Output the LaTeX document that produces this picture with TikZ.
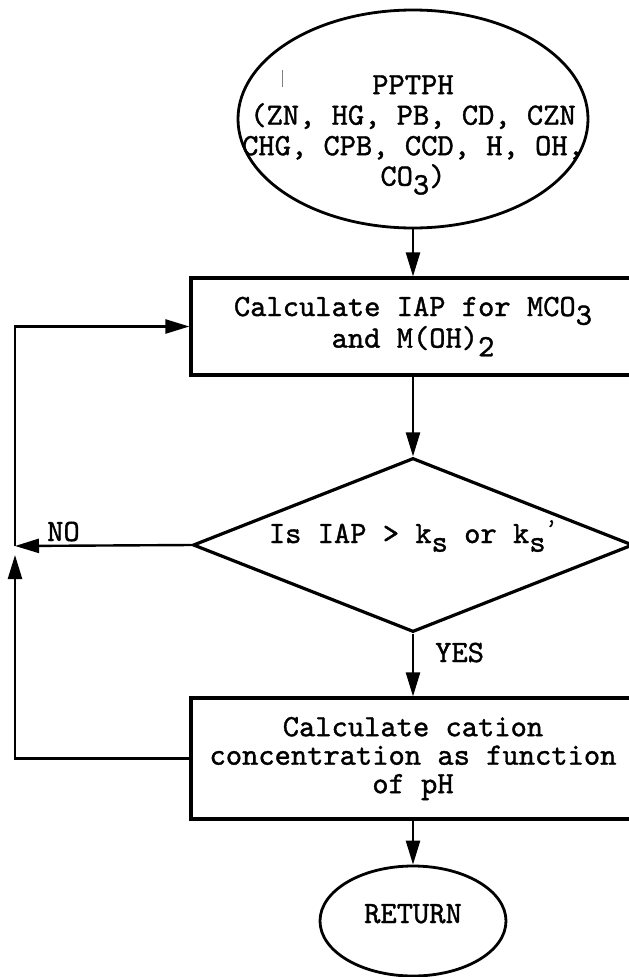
\documentclass[tikz,border=0pt]{standalone}
\usepackage{fontspec}
\usetikzlibrary{shapes.geometric,arrows.meta}
\newfontfamily\typew{lmmono10-regular.otf}[FakeBold=1.2]
% typed subscript: same face, dropped below the baseline
\newcommand\sub[1]{\raisebox{-0.28em}{#1}}
\begin{document}
\begin{tikzpicture}[x=1pt,y=-1pt,
  every node/.style={font=\typew\fontsize{31}{30.5}\selectfont, inner sep=0pt},
  outline/.style={draw, line width=3.2pt},
  procbox/.style={outline, rectangle, minimum width=444pt, align=center},
  flow/.style={line width=2.4pt, -{Triangle[length=24pt,width=14pt]}},
  lbl/.style={anchor=base west}]
\clip (0,0) rectangle (629,977);

% start terminal
\node[outline, line width=2.8pt, ellipse, minimum width=350pt, minimum height=218pt] (start) at (413,119) {};
\node[align=center] (starttext) at (413,135)
  {PPTPH\\(ZN, HG, PB, CD, CZN\\CHG, CPB, CCD, H, OH,\\CO\sub{3})};
\draw[gray, line width=0.6pt] (282,70) -- (282,87);

% process boxes and decision
\node[procbox, minimum height=97pt] (iap) at (413,326.5)
  {Calculate IAP for MCO\sub{3}\\and M(OH)\sub{2}};
\node[outline, diamond, minimum width=440pt, minimum height=174pt, aspect=2.53,
      text height=20pt, text depth=24pt] (test) at (413,545)
  {Is IAP > k\sub{s} or k\sub{s}\raisebox{0.3em}{\fontsize{22}{22}\selectfont’}};
\node[procbox, minimum height=121pt, font=\typew\fontsize{31}{28.5}\selectfont] (cation) at (413,758.5)
  {Calculate cation\\concentration as function\\of pH};
\node[outline, line width=2.8pt, ellipse, minimum width=186pt, minimum height=110pt,
      text height=19pt, text depth=15pt] (ret) at (413,921) {RETURN};

% branch labels
\node[lbl] (no) at (47,541) {NO};
\node[lbl] (yes) at (435,662) {YES};

% loop-back points on the left rail
\coordinate (junction) at (15,546);
\coordinate (uptip) at (15,555);

% main flow
\draw[flow] (start.south) -- (iap.north);
\draw[flow] (iap.south) -- (test.north);
\draw[flow] (test.south) -- (cation.north);
\draw[flow] (cation.south) -- (ret.north);

% NO branch and return path
\draw[flow] (test.west) -- (junction);
\draw[flow] (cation.west) -| (uptip);
\draw[flow] (junction) |- (iap.west);
\end{tikzpicture}
\end{document}
